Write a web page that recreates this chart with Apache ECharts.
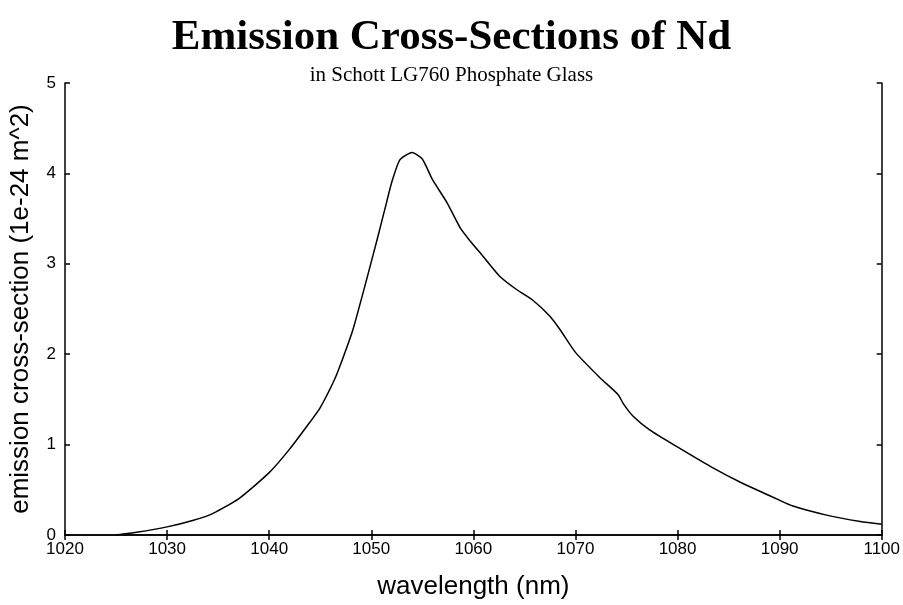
<!DOCTYPE html>
<html>
<head>
<meta charset="utf-8">
<script src="https://cdn.jsdelivr.net/npm/echarts@6/dist/echarts.min.js"></script>
<style>
  html, body { margin: 0; padding: 0; background: #fff; }
  #chart { width: 903px; height: 605px; }
</style>
</head>
<body>
<div id="chart"></div>
<script>
// Nd emission cross-section in LG760 phosphate glass
const wavelength = [1025, 1027, 1030, 1032.5, 1034.5, 1037, 1040, 1042, 1044, 1045,
  1046.4, 1047.2, 1048.2, 1049.6, 1050.6, 1051.5, 1052.0, 1052.8, 1054.0, 1055.0,
  1056.0, 1057.4, 1058.7, 1059.7, 1060.9, 1062.6, 1064.3, 1065.8, 1067.5, 1068.5,
  1070, 1072.4, 1074.2, 1074.7, 1075.6, 1077.3, 1079.9, 1083.2, 1086.4, 1089.7,
  1091.3, 1094.6, 1097.9, 1100];
const crossSection = [0, 0.03, 0.09, 0.16, 0.24, 0.40, 0.69, 0.95, 1.25, 1.41,
  1.72, 1.95, 2.27, 2.85, 3.28, 3.68, 3.90, 4.15, 4.23, 4.16,
  3.93, 3.68, 3.40, 3.25, 3.09, 2.86, 2.71, 2.60, 2.42, 2.27,
  2.02, 1.74, 1.55, 1.45, 1.32, 1.16, 0.98, 0.76, 0.57, 0.40,
  0.32, 0.22, 0.15, 0.12];
const xTicks = [1020, 1100, 10];
const yTicks = [0, 5, 1];

const chart = echarts.init(document.getElementById('chart'), null, { renderer: 'canvas' });

const axisLine = { show: true, lineStyle: { color: '#000', width: 1.5 } };
const tickIn = { show: true, inside: true, length: 5, lineStyle: { color: '#000', width: 1.5 } };
const tickFont = { color: '#000', fontFamily: 'Liberation Sans, Arial, sans-serif', fontSize: 17 };
const plain = v => String(v);

chart.setOption({
  animation: false,
  backgroundColor: '#fff',
  title: [
    {
      text: 'Emission Cross-Sections of Nd',
      left: 'center', top: 11,
      textStyle: { fontFamily: 'Liberation Serif, Times New Roman, serif', fontWeight: 'bold', fontSize: 43, color: '#000' }
    },
    {
      text: 'in Schott LG760 Phosphate Glass',
      left: 'center', top: 60,
      textStyle: { fontFamily: 'Liberation Serif, Times New Roman, serif', fontWeight: 'normal', fontSize: 21, color: '#000' }
    }
  ],
  grid: { left: 65, right: 21, top: 83, bottom: 63, containLabel: false },
  xAxis: [
    {
      type: 'value', min: xTicks[0], max: xTicks[1], interval: xTicks[2],
      name: 'wavelength (nm)', nameLocation: 'middle', nameGap: 39,
      nameTextStyle: { color: '#000', fontFamily: 'Liberation Sans, Arial, sans-serif', fontSize: 26 },
      axisLine: axisLine, axisTick: tickIn,
      axisLabel: Object.assign({ margin: 6, formatter: plain }, tickFont),
      splitLine: { show: false }
    },
    {
      type: 'value', position: 'top', min: xTicks[0], max: xTicks[1], interval: xTicks[2],
      axisLine: axisLine, axisTick: tickIn, axisLabel: { show: false }, splitLine: { show: false }
    }
  ],
  yAxis: [
    {
      type: 'value', min: yTicks[0], max: yTicks[1], interval: yTicks[2],
      name: 'emission cross-section (1e-24 m^2)', nameLocation: 'middle', nameGap: 31,
      nameTextStyle: { color: '#000', fontFamily: 'Liberation Sans, Arial, sans-serif', fontSize: 26 },
      axisLine: axisLine, axisTick: tickIn,
      axisLabel: Object.assign({ margin: 9, formatter: plain }, tickFont),
      splitLine: { show: false }
    },
    {
      type: 'value', position: 'right', min: yTicks[0], max: yTicks[1], interval: yTicks[2],
      axisLine: axisLine, axisTick: tickIn, axisLabel: { show: false }, splitLine: { show: false }
    }
  ],
  series: [
    {
      type: 'line',
      data: wavelength.map((w, i) => [w, crossSection[i]]),
      xAxisIndex: 0, yAxisIndex: 0,
      showSymbol: false, smooth: 0.2,
      lineStyle: { color: '#000', width: 1.5 }
    }
  ]
});
</script>
</body>
</html>
